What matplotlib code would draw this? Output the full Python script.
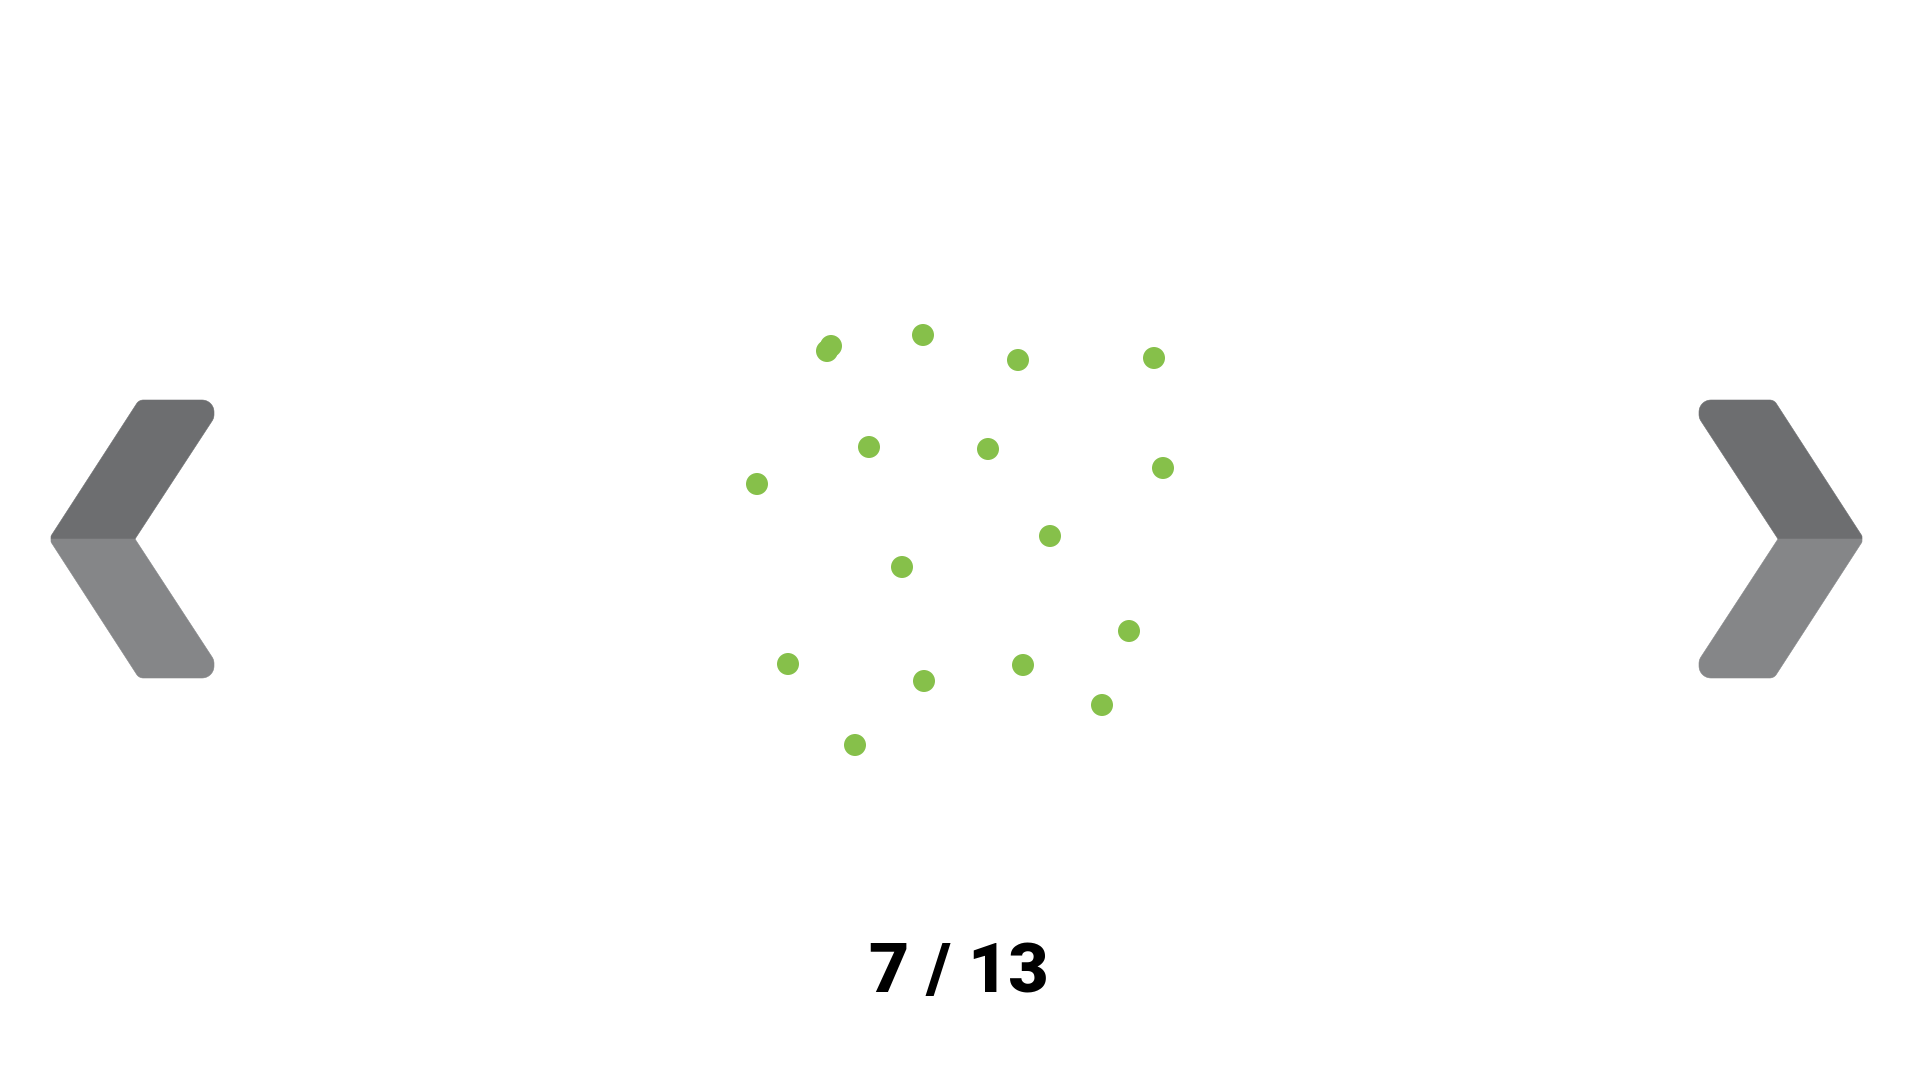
import matplotlib
matplotlib.use("Agg")
import matplotlib.pyplot as plt
from matplotlib.patches import Polygon
import numpy as np

# ---- data: dot positions (pixel coordinates of the 1920x1080 canvas) ----
dot_x = [827, 831, 923, 1018, 1154, 869, 988, 1163, 757, 1050, 902, 1129, 788, 924, 1023, 1102, 855]
dot_y = [351, 346, 335, 360, 358, 447, 449, 468, 484, 536, 567, 631, 664, 681, 665, 705, 745]
current_page = 7
total_pages = 13

DOT_COLOR = "#86C04A"
DARK_GREY = "#6D6E70"
LIGHT_GREY = "#858688"

W, H = 1920, 1080
fig = plt.figure(figsize=(W / 100, H / 100), dpi=100)
ax = fig.add_axes([0, 0, 1, 1])
ax.set_xlim(0, W)
ax.set_ylim(H, 0)
ax.axis("off")
fig.patch.set_facecolor("white")


def rounded(poly, radii, n=16):
    """Return the outline of a polygon with its corners rounded by the given radii."""
    P = np.asarray(poly, float)
    m = len(P)
    out = []
    for i in range(m):
        V, A, B = P[i], P[i - 1], P[(i + 1) % m]
        r = radii[i]
        if r <= 0:
            out.append(V)
            continue
        u1 = (A - V) / np.hypot(*(A - V))
        u2 = (B - V) / np.hypot(*(B - V))
        th = np.arccos(np.clip(np.dot(u1, u2), -1, 1))
        t = r / np.tan(th / 2)
        T1, T2 = V + u1 * t, V + u2 * t
        bis = (u1 + u2) / np.hypot(*(u1 + u2))
        C = V + bis * r / np.sin(th / 2)
        a1 = np.arctan2(*(T1 - C)[::-1])
        a2 = np.arctan2(*(T2 - C)[::-1])
        d = (a2 - a1 + np.pi) % (2 * np.pi) - np.pi
        for s in np.linspace(0, 1, n):
            a = a1 + d * s
            out.append(C + r * np.array([np.cos(a), np.sin(a)]))
    return np.array(out)


def chevron(mirror=False):
    mid = 539
    upper = [(51, mid), (51, 536), (139, 400), (214, 400), (214, 418), (135, mid)]
    lower = [(51, mid), (135, mid), (214, 660), (214, 678), (139, 678), (51, 542)]
    r_up = [0, 3, 8, 12, 12, 0]
    r_lo = [0, 0, 12, 12, 8, 3]
    for pts, rad, col in ((upper, r_up, DARK_GREY), (lower, r_lo, LIGHT_GREY)):
        outline = rounded(pts, rad)
        if mirror:
            outline[:, 0] = 1913 - outline[:, 0]
        ax.add_patch(Polygon(outline, closed=True, facecolor=col, edgecolor=col,
                             linewidth=0.4, zorder=2))


chevron(False)
chevron(True)

ax.scatter(dot_x, dot_y, s=(22 * 0.72) ** 2, color=DOT_COLOR, edgecolors="none", zorder=3)

ax.text(959, 966, f"{current_page} / {total_pages}", ha="center", va="center_baseline",
        fontsize=50, fontfamily="Roboto", fontweight="black", color="black")

fig.savefig("out.png", dpi=100, facecolor="white")
